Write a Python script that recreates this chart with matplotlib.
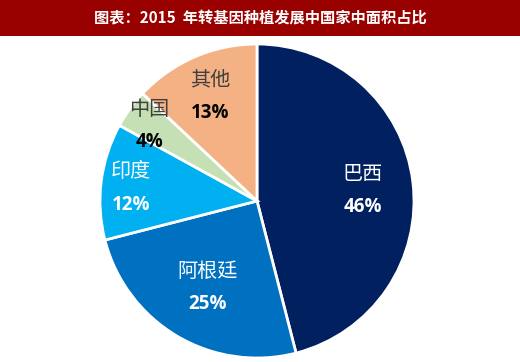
import numpy as np
import matplotlib.pyplot as plt
from matplotlib.patches import Rectangle

plt.rcParams['font.family'] = ['Noto Sans CJK SC', 'DejaVu Sans']

title = '图表：2015  年转基因种植发展中国家中面积占比'
names = ['巴西', '阿根廷', '印度', '中国', '其他']
shares = [46, 25, 12, 4, 13]
colors = ['#002060', '#0070C0', '#00B0F0', '#C5E0B4', '#F4B183']
name_colors = ['white', 'white', 'white', '#404040', '#404040']
pct_colors = ['white', 'white', 'white', 'black', 'black']
label_r = [0.68, 0.62, 0.81, 0.85, 0.75]


def draw_chart():
    fig = plt.figure(figsize=(5.2, 3.62), dpi=100)

    # title bar
    fig.patches.append(Rectangle((0, 0.9), 1, 0.1, transform=fig.transFigure,
                                 facecolor='#990000', edgecolor='none'))
    fig.text(0.5, 0.95, title, color='white', fontsize=11, fontweight='bold',
             ha='center', va='center')

    # pie centred at about (257, 201) px, radius 157 px
    ax = fig.add_axes([100 / 520, (362 - 201 - 157) / 362, 314 / 520, 314 / 362])
    wedges, _ = ax.pie(shares, colors=colors, startangle=90, counterclock=False,
                       wedgeprops=dict(edgecolor='white', linewidth=2))
    ax.set_xlim(-1, 1)
    ax.set_ylim(-1, 1)
    for w in wedges:
        w.set_clip_on(False)

    for w, name, pct, r, nc, pc in zip(wedges, names, shares, label_r,
                                       name_colors, pct_colors):
        ang = np.deg2rad((w.theta1 + w.theta2) / 2)
        x = r * np.cos(ang)
        y = r * np.sin(ang) - 0.02
        ax.text(x, y + 0.105, name, color=nc, fontsize=14.5, fontweight='light',
                ha='center', va='center')
        ax.text(x, y - 0.105, '%d%%' % pct, color=pc, fontsize=13.5, fontweight='bold',
                family=['Open Sans', 'DejaVu Sans'], ha='center', va='center')

    fig.savefig('out.png', dpi=100)


draw_chart()
